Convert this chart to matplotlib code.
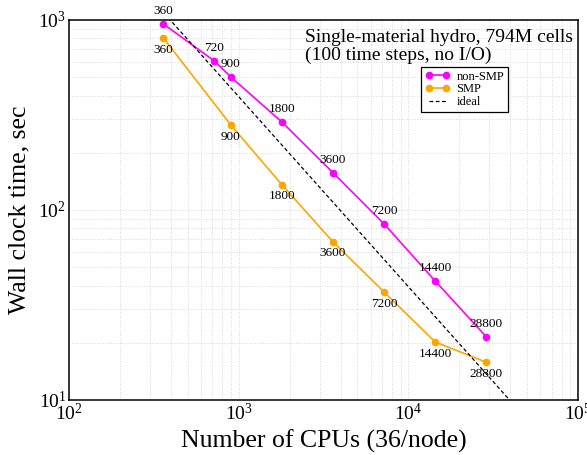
import numpy as np
import matplotlib
matplotlib.use("Agg")
import matplotlib.pyplot as plt

plt.rcParams['font.family'] = ['Liberation Serif', 'DejaVu Serif']
plt.rcParams['mathtext.fontset'] = 'stix'

# data
cpus_nonsmp = [360, 720, 900, 1800, 3600, 7200, 14400, 28800]
time_nonsmp = [953, 608, 501, 290, 157, 84.4, 42.3, 21.5]
cpus_smp = [360, 900, 1800, 3600, 7200, 14400, 28800]
time_smp = [804, 280, 135.6, 67.9, 37.0, 20.2, 15.8]
ideal_const = 395000.0
ideal_cpus = [300, 100000]

fig = plt.figure(figsize=(5.87, 4.55), dpi=100)
ax = fig.add_axes([0.1175, 0.1209, 0.8672, 0.8352])

ax.plot(cpus_nonsmp, time_nonsmp, '-o', color='#ff00ff', lw=1.2, ms=4.5, label='non-SMP')
ax.plot(cpus_smp, time_smp, '-o', color='#ffa500', lw=1.2, ms=4.5, label='SMP')
ax.plot(ideal_cpus, [ideal_const / c for c in ideal_cpus], '--', color='black', lw=0.9,
        dashes=(3, 2), label='ideal')

for c, t in zip(cpus_nonsmp, time_nonsmp):
    ax.annotate(str(c), (c, t), xytext=(0, 5), textcoords='offset points',
                ha='center', va='bottom', fontsize=9.5)
for c, t in zip(cpus_smp, time_smp):
    ax.annotate(str(c), (c, t), xytext=(0, -4), textcoords='offset points',
                ha='center', va='top', fontsize=9.5)

ax.set_xscale('log')
ax.set_yscale('log')
ax.set_xlim(1e2, 1e5)
ax.set_ylim(1e1, 1e3)
ax.grid(True, which='both', color='#d8d8d8', ls=':', lw=0.7)
ax.tick_params(which='both', length=0, labelsize=14, pad=2)
for s in ax.spines.values():
    s.set_linewidth(1.1)

ax.set_xlabel('Number of CPUs (36/node)', fontsize=18.5, labelpad=4)
ax.set_ylabel('Wall clock time, sec', fontsize=18.5, labelpad=6)

ax.text(0.464, 0.977, 'Single-material hydro, 794M cells\n(100 time steps, no I/O)',
        transform=ax.transAxes, ha='left', va='top', fontsize=14, linespacing=1.08)

leg = ax.legend(loc='upper right', bbox_to_anchor=(0.862, 0.876), borderaxespad=0,
                fontsize=9, numpoints=2, handlelength=2.0, fancybox=False,
                framealpha=1, edgecolor='black', borderpad=0.3, labelspacing=0.05,
                handletextpad=0.5)
leg.get_frame().set_linewidth(0.9)

fig.savefig('out.png', dpi=100)
